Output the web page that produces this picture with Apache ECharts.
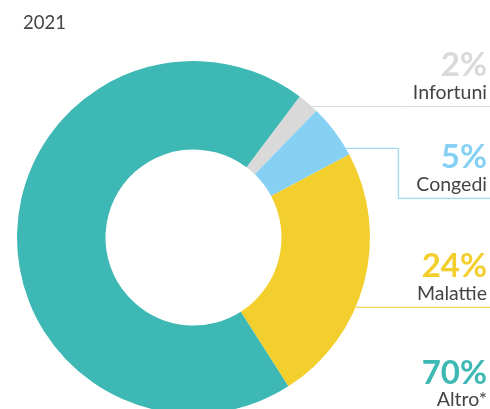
<!DOCTYPE html>
<html>
<head>
<meta charset="utf-8">
<script src="https://cdn.jsdelivr.net/npm/echarts@6/dist/echarts.min.js"></script>
<style>
  html, body { margin: 0; padding: 0; background: #ffffff; }
  #chart { width: 490px; height: 409px; }
</style>
</head>
<body>
<div id="chart"></div>
<script>
// Ripartizione delle assenze, anno 2021 (valori in %)
const year = '2021';
const categories = ['Infortuni', 'Congedi', 'Malattie', 'Altro*'];
const values = [2, 5, 24, 70];
const colors = ['#d9d9d9', '#86d0f4', '#f3cf2d', '#3db8b4'];

// Donut geometry
const CX = 193.5, CY = 237.5, R_IN = 88, R_OUT = 176.5;
const LABEL_RIGHT = 487;
// Height of each leader line (the label sits just above it)
const guideY = [106.5, 198.3, 307.3, 414];
const congediElbow = { x: 398.3, y: 148.3 };

function edgeX(y) {
  const dy = y - CY;
  return CX + Math.sqrt(Math.max(0, R_OUT * R_OUT - dy * dy));
}

const chart = echarts.init(document.getElementById('chart'), null, { renderer: 'canvas' });

const rich = {};
categories.forEach((c, i) => {
  rich['p' + i] = {
    fontFamily: 'Lato', fontWeight: 'bold', fontSize: 33, lineHeight: 32,
    color: colors[i], align: 'right'
  };
});
rich.n = {
  fontFamily: 'Lato', fontSize: 19.5, lineHeight: 22, color: '#444444', align: 'right'
};

chart.setOption({
  animation: false,
  title: {
    text: year,
    left: 18, top: 9,
    textStyle: { fontFamily: 'Lato', fontSize: 18.5, fontWeight: 'normal', color: '#444444' }
  },
  series: [{
    type: 'pie',
    center: [CX, CY],
    radius: [R_IN, R_OUT],
    startAngle: 53,
    clockwise: true,
    avoidLabelOverlap: false,
    silent: true,
    itemStyle: { borderWidth: 0 },
    data: categories.map((c, i) => ({
      name: c,
      value: values[i],
      itemStyle: { color: colors[i] },
      labelLine: { lineStyle: { color: colors[i], width: 1 } }
    })),
    label: {
      show: true,
      position: 'outside',
      formatter: p => `{p${p.dataIndex}|${values[p.dataIndex]}%}\n{n|${p.name}}`,
      rich: rich
    },
    labelLine: { show: true, smooth: false, length: 10, length2: 10 },
    labelLayout: function (params) {
      const i = params.dataIndex;
      const y = guideY[i];
      let pts;
      if (i === 1) {
        pts = [
          [edgeX(congediElbow.y), congediElbow.y],
          [congediElbow.x, congediElbow.y],
          [congediElbow.x, y],
          [490, y]
        ];
      } else {
        pts = [[edgeX(y), y], [(edgeX(y) + 490) / 2, y], [490, y]];
      }
      return {
        x: LABEL_RIGHT,
        y: y - 3,
        align: 'right',
        verticalAlign: 'bottom',
        labelLinePoints: pts
      };
    }
  }]
});
</script>
</body>
</html>
